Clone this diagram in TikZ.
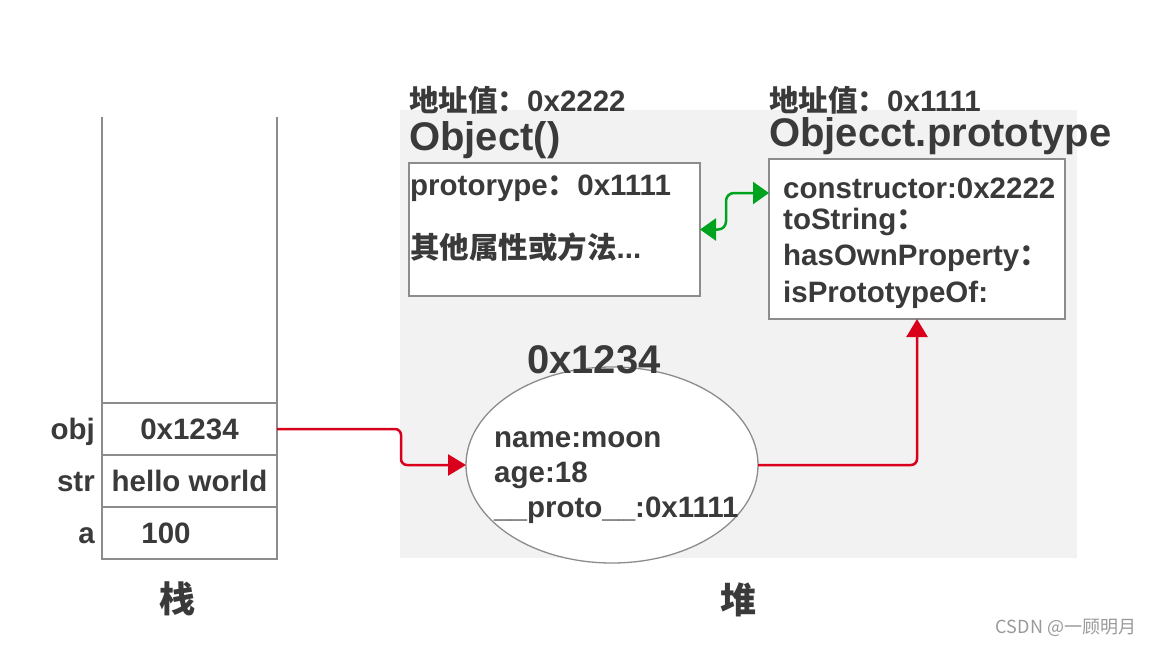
\documentclass[tikz,border=0pt]{standalone}
\usepackage{fontspec}
\setmainfont{Liberation Sans}
\newfontfamily\cjk{Noto Sans CJK SC}
\usetikzlibrary{positioning,arrows.meta,calc,shapes.geometric}
\definecolor{txtgray}{HTML}{3A3A3A}
\definecolor{linegray}{HTML}{8C8C8C}
\definecolor{heapbg}{HTML}{F2F2F2}
\definecolor{ptrred}{HTML}{D9001B}
\definecolor{linkgreen}{HTML}{00A31E}
\tikzset{
  cell/.style   ={draw=linegray, line width=2pt, minimum width=175pt, minimum height=52pt,
                  inner sep=0pt, outer sep=0pt, font=\fontsize{29.5}{34}\selectfont\bfseries, text=txtgray},
  stackcol/.style={draw=linegray, line width=2pt},
  body/.style   ={font=\fontsize{29.5}{34}\selectfont\bfseries, text=txtgray, inner sep=0pt},
  ttl/.style    ={body, anchor=base west},
  bigttl/.style ={font=\fontsize{40}{44}\selectfont\bfseries, text=txtgray, inner sep=0pt, anchor=base west},
  membox/.style ={draw=linegray, line width=1.3pt, fill=white, inner sep=0pt, outer sep=0pt},
  heapbox/.style={fill=heapbg, inner sep=0pt},
  area/.style   ={font=\cjk\fontsize{36}{40}\selectfont\bfseries, text=txtgray},
  redarr/.style ={draw=ptrred, line width=2.5pt, rounded corners=6pt, -{Triangle[length=18pt,width=21pt]}},
  grnarr/.style ={draw=linkgreen, line width=2.5pt, rounded corners=8pt,
                  {Triangle[length=16pt,width=22pt]}-{Triangle[length=16pt,width=22pt]}},
  wmark/.style  ={font=\cjk\fontsize{18}{20}\selectfont, text=black!40}
}

\begin{document}
\begin{tikzpicture}[x=1pt,y=-1pt]
  \useasboundingbox (0,0) rectangle (1155,647);

  % heap area
  \node[heapbox, minimum width=677pt, minimum height=448pt](heap) at (738.5,334){};
  \node[area](hp) at ([yshift=-42pt]heap.south){堆};

  % stack
  \coordinate (stacktop) at (0,117);
  \node[cell](v1) at (189.5,429){0x1234};
  \node[cell, below=0pt of v1](v2){hello world};
  \node[cell, below=0pt of v2](v3){100\kern47pt};
  \draw[stackcol](v1.north west) -- (v1.north west |- stacktop);
  \draw[stackcol](v1.north east) -- (v1.north east |- stacktop);
  \node[body, anchor=base east](lobj) at ([xshift=-7pt]v1.base west){obj};
  \node[body, anchor=base east](lstr) at ([xshift=-7pt]v2.base west){str};
  \node[body, anchor=base east](la) at ([xshift=-7pt]v3.base west){a};
  \node[area](stk) at ([xshift=-12pt,yshift=-40pt]v3.south){栈};

  % Object()
  \node[membox, minimum width=291pt, minimum height=133pt](objbox) at (554.5,229.5){};
  \node[ttl](objaddr) at ([yshift=51pt]objbox.north west){{\cjk 地址值：}0x2222};
  \node[bigttl](objname) at ([yshift=13pt]objbox.north west){Object()};
  \node[ttl](objp1) at ([xshift=1pt,yshift=-32pt]objbox.north west){protorype{\cjk ：}0x1111};
  \node[ttl](objp2) at ([xshift=1pt,yshift=-95pt]objbox.north west){{\cjk 其他属性或方法}...};

  % Object.prototype
  \node[membox, minimum width=296pt, minimum height=160pt](protobox) at (917,239){};
  \node[ttl](protoaddr) at ([yshift=47pt]protobox.north west){{\cjk 地址值：}0x1111};
  \node[bigttl](protoname) at ([yshift=12pt]protobox.north west){Objecct.prototype};
  \foreach \dy/\ln [count=\i] in {39/constructor:0x2222, 70/toString{\cjk ：},
                                  106/hasOwnProperty{\cjk ：}, 143/isPrototypeOf:}
    \node[ttl](pp\i) at ([xshift=14pt,yshift=-\dy pt]protobox.north west){\ln};

  % obj instance
  \node[membox, ellipse, minimum width=292pt, minimum height=196pt](heapobj) at (612,465){};
  \node[bigttl, anchor=base](objaddr2) at ([xshift=-18pt,yshift=-6pt]heapobj.north){0x1234};
  \foreach \dy/\ln [count=\i] in {18/name:moon, -17/age:18, -52/\_\_proto\_\_:0x1111}
    \node[ttl](op\i) at ([xshift=28pt,yshift=\dy pt]heapobj.west){\ln};

  % links
  \coordinate (bend1) at (401,445);
  \coordinate (glink) at (726,212);
  \draw[redarr](v1.east) -| (bend1) |- (heapobj.west);
  \draw[redarr](heapobj.east) -| (protobox.south);
  \draw[grnarr](objbox.east) -| (glink) |- ([yshift=46pt]protobox.west);

  \node[wmark](csdn) at (1066,628){CSDN @一顾明月};
\end{tikzpicture}
\end{document}
